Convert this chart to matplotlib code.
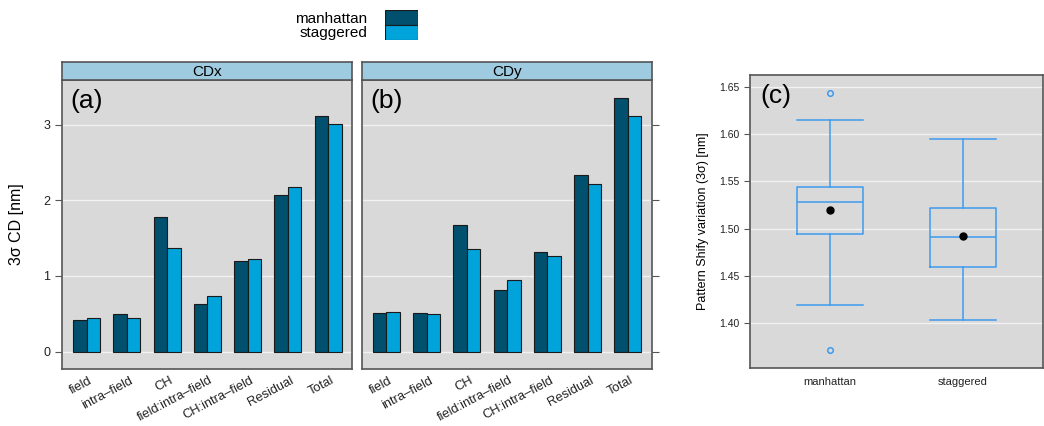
import matplotlib

matplotlib.use("Agg")
import matplotlib.pyplot as plt
import numpy as np
from matplotlib.patches import Rectangle

plt.rcParams["font.family"] = ["Liberation Sans", "DejaVu Sans"]

# --- data -----------------------------------------------------------------
components = ["field", "intra\u2013field", "CH", "field:intra\u2013field",
              "CH:intra\u2013field", "Residual", "Total"]
layouts = ["manhattan", "staggered"]

cdx_manhattan = [0.42, 0.50, 1.78, 0.63, 1.20, 2.07, 3.11]
cdx_staggered = [0.45, 0.445, 1.37, 0.73, 1.23, 2.17, 3.01]
cdy_manhattan = [0.507, 0.51, 1.68, 0.81, 1.32, 2.34, 3.35]
cdy_staggered = [0.52, 0.49, 1.35, 0.94, 1.26, 2.22, 3.12]

# pattern shift box statistics (manhattan, staggered)
ps_whislo = [1.419, 1.404]
ps_q1 = [1.4944, 1.4599]
ps_med = [1.5285, 1.4915]
ps_q3 = [1.5444, 1.5218]
ps_whishi = [1.6148, 1.5944]
ps_mean = [1.520, 1.4923]
ps_fliers = [[1.6437, 1.3718], []]

DARK = "#00506e"
LIGHT = "#00a3da"
STRIP = "#9fcbe0"
PANEL = "#d9d9d9"
FRAME = "#555555"
BOXC = "#3d9bef"

fig = plt.figure(figsize=(10.44, 4.26), dpi=100)


def bar_panel(left, right, strip_label, tag, man, stag, left_ticks):
    ax = fig.add_axes([left, 0.134, right - left, 0.812 - 0.134])
    ax.set_facecolor(PANEL)
    x = np.arange(1, len(components) + 1)
    w = 0.335
    ax.bar(x - w / 2, man, w, color=DARK, edgecolor="#1a1a1a", linewidth=0.8, zorder=3)
    ax.bar(x + w / 2, stag, w, color=LIGHT, edgecolor="#1a1a1a", linewidth=0.8, zorder=3)
    ax.set_xlim(0.39, 7.59)
    ax.set_ylim(-0.23, 3.59)
    ax.set_yticks([0, 1, 2, 3])
    ax.grid(axis="y", color="#f2f2f2", linewidth=1.0, zorder=0)
    ax.set_xticks(x + 0.05)
    ax.set_xticklabels(components, rotation=28, ha="right", rotation_mode="anchor",
                       fontsize=9.3, color="#222222")
    ax.tick_params(axis="x", length=0, pad=4)
    if left_ticks:
        ax.tick_params(axis="y", left=True, right=False, labelleft=True,
                       labelsize=9, length=5, color=FRAME, labelcolor="#222222")
    else:
        ax.tick_params(axis="y", left=False, right=True, labelleft=False,
                       length=5, color=FRAME)
    for s in ax.spines.values():
        s.set_color(FRAME)
        s.set_linewidth(1.2)
    ax.text(0.03, 0.97, tag, transform=ax.transAxes, fontsize=19, va="top", ha="left")
    # strip
    sax = fig.add_axes([left, 0.812, right - left, 0.854 - 0.812])
    sax.set_facecolor(STRIP)
    sax.set_xticks([])
    sax.set_yticks([])
    for s in sax.spines.values():
        s.set_color(FRAME)
        s.set_linewidth(1.2)
    sax.text(0.5, 0.45, strip_label, transform=sax.transAxes, ha="center", va="center",
             fontsize=11)
    return ax


ax_a = bar_panel(0.0594, 0.337, "CDx", "(a)", cdx_manhattan, cdx_staggered, True)
ax_a.set_ylabel("3\u03c3 CD [nm]", fontsize=11.5, labelpad=14)
ax_b = bar_panel(0.3467, 0.6242, "CDy", "(b)", cdy_manhattan, cdy_staggered, False)

# legend at top
fig.text(0.352, 0.955, layouts[0], ha="right", va="center", fontsize=11)
fig.text(0.352, 0.922, layouts[1], ha="right", va="center", fontsize=11)
leg = fig.add_axes([0.3688, 0.905, 0.032, 0.072])
leg.set_axis_off()
leg.set_xlim(0, 1)
leg.set_ylim(0, 2)
leg.add_patch(Rectangle((0, 1), 1, 1, facecolor=DARK, edgecolor="#1a1a1a", lw=0.8))
leg.add_patch(Rectangle((0, 0), 1, 1, facecolor=LIGHT, edgecolor="#1a1a1a", lw=0.8))

# panel (c) boxplot
ax_c = fig.add_axes([0.7187, 0.1354, 0.2803, 0.824 - 0.1354])
ax_c.set_facecolor(PANEL)
stats = []
for i, name in enumerate(layouts):
    stats.append(dict(label=name, whislo=ps_whislo[i], q1=ps_q1[i], med=ps_med[i],
                      q3=ps_q3[i], whishi=ps_whishi[i], mean=ps_mean[i],
                      fliers=ps_fliers[i]))
line = dict(color=BOXC, linewidth=1.1)
ax_c.bxp(stats, positions=[1, 2], widths=0.5, showmeans=True,
         boxprops=line, whiskerprops=line, capprops=line, medianprops=line,
         meanprops=dict(marker="o", markerfacecolor="black", markeredgecolor="black",
                        markersize=5),
         flierprops=dict(marker="o", markerfacecolor="none", markeredgecolor=BOXC,
                         markersize=4, markeredgewidth=1.1),
         capwidths=0.5, zorder=3)
ax_c.set_xlim(0.4, 2.6)
ax_c.set_ylim(1.3525, 1.6624)
ax_c.set_yticks([1.40, 1.45, 1.50, 1.55, 1.60, 1.65])
ax_c.set_yticklabels(["1.40", "1.45", "1.50", "1.55", "1.60", "1.65"])
ax_c.grid(axis="y", color="#f2f2f2", linewidth=1.0, zorder=0)
ax_c.set_axisbelow(True)
ax_c.tick_params(axis="y", labelsize=7.5, length=4, color=FRAME, labelcolor="#222222")
ax_c.tick_params(axis="x", labelsize=8, length=0, pad=6, labelcolor="#222222")
ax_c.set_ylabel("Pattern Shify variation (3\u03c3) [nm]", fontsize=9, labelpad=8)
for s in ax_c.spines.values():
    s.set_color(FRAME)
    s.set_linewidth(1.2)
ax_c.text(0.035, 0.97, "(c)", transform=ax_c.transAxes, fontsize=19, va="top", ha="left")

fig.savefig("out.png", dpi=100)
